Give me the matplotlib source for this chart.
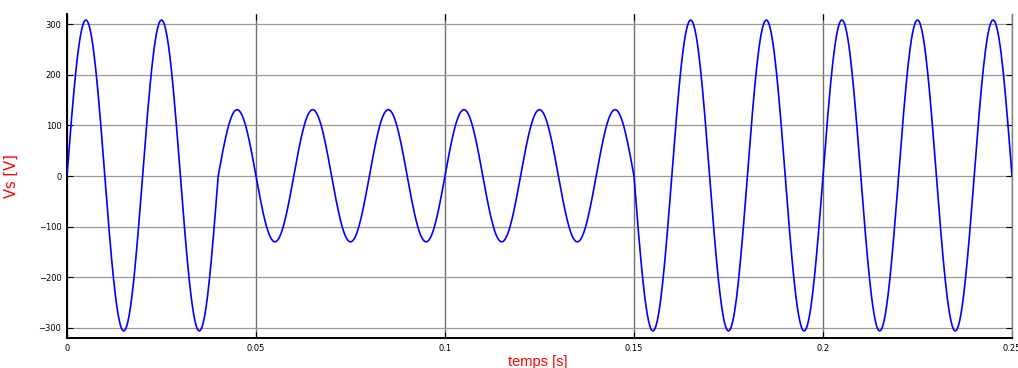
import numpy as np
import matplotlib
matplotlib.use("Agg")
import matplotlib.pyplot as plt

# Supply frequency of the voltage waveform (Hz)
freq = 50.0
# Extremum of each successive half-cycle of Vs (V), starting at t = 0
half_cycle_peaks = [
    308, -306, 308, -306,                               # 0 .. 0.04 s : nominal voltage
    131, -130, 131, -130, 131, -130, 131, -130, 131, -130, 131,  # 0.04 .. 0.15 s : sag
    -306, 308, -306, 308, -306, 308, -306, 308, -306, 308,       # 0.15 .. 0.25 s : recovery
]
x_ticks = [0, 0.05, 0.1, 0.15, 0.2, 0.25]
x_tick_labels = ["0", "0.05", "0.1", "0.15", "0.2", "0.25"]
y_ticks = [-300, -200, -100, 0, 100, 200, 300]

# Build the trace half-cycle by half-cycle
half_period = 0.5 / freq
t_parts, v_parts = [], []
for k, peak in enumerate(half_cycle_peaks):
    tt = np.linspace(0, half_period, 60, endpoint=False)
    t_parts.append(k * half_period + tt)
    v_parts.append(peak * np.sin(np.pi * tt / half_period))
t = np.concatenate(t_parts + [[len(half_cycle_peaks) * half_period]])
vs = np.concatenate(v_parts + [[0.0]])

fig = plt.figure(figsize=(10.18, 3.68), dpi=100)
ax = fig.add_axes([67 / 1018, 1 - 338 / 368, (1012 - 67) / 1018, (338 - 14) / 368])

ax.plot(t, vs, color="#0000ff", lw=1.2, zorder=3)

ax.set_xlim(0, 0.25)
ax.set_ylim(-320, 320)
ax.set_xticks(x_ticks)
ax.set_xticklabels(x_tick_labels)
ax.set_yticks(y_ticks)

ax.grid(axis="y", color="#9a9a9a", lw=0.9, zorder=1)
ax.grid(axis="x", color="#707070", lw=1.0, zorder=1)

ax.tick_params(axis="both", direction="in", length=4, width=0.8,
               labelsize=6, top=True, right=True, pad=4)
for lab in ax.get_xticklabels() + ax.get_yticklabels():
    lab.set_fontfamily("DejaVu Sans")

for side in ("left", "bottom"):
    ax.spines[side].set_color("black")
    ax.spines[side].set_linewidth(1.4)
ax.spines["top"].set_visible(False)
ax.spines["right"].set_color("#808080")
ax.spines["right"].set_linewidth(1.0)

ax.set_ylabel("Vs [V]", color="red", fontsize=10.5,
              family=["Liberation Sans Narrow", "DejaVu Sans"])
ax.yaxis.set_label_coords(-48 / 945, 0.5)
ax.set_xlabel("temps [s]", color="red", fontsize=10.5,
              family=["Liberation Sans", "DejaVu Sans"])
ax.xaxis.set_label_coords((538 - 67) / 945, -17 / 324)

fig.savefig("out.png", dpi=100)
